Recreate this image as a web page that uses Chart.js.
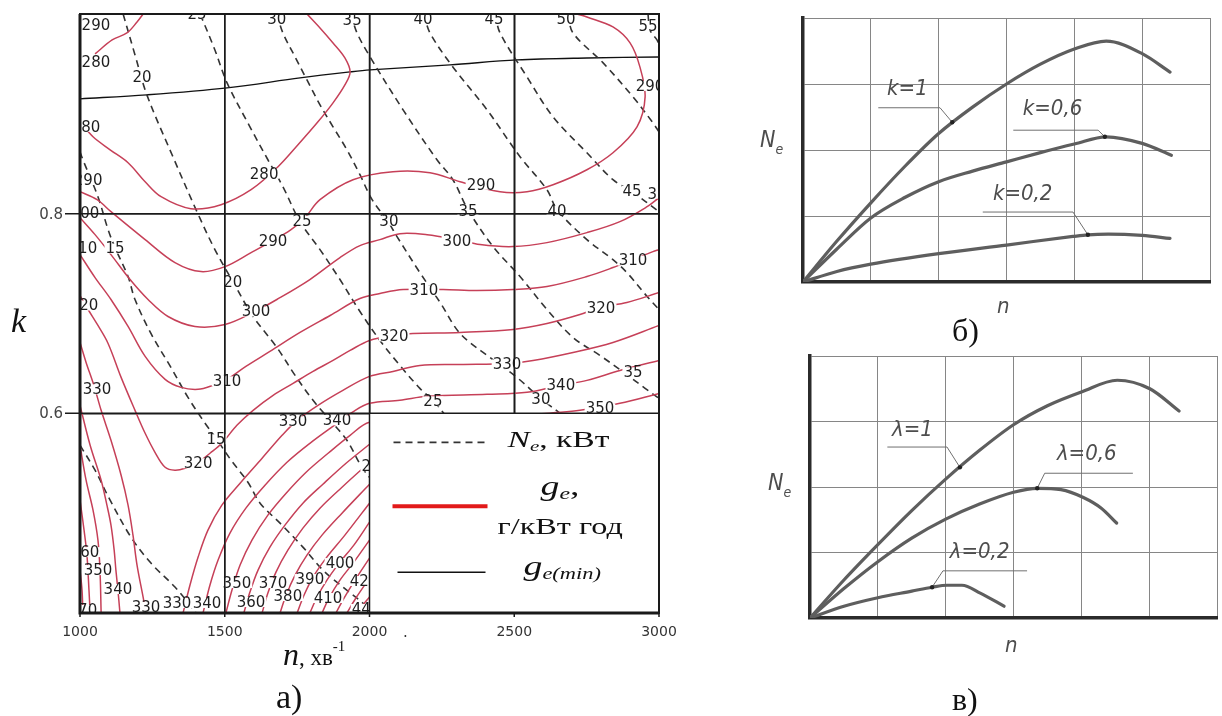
<!DOCTYPE html>
<html lang="uk">
<head>
<meta charset="utf-8">
<title>Характеристики двигуна</title>
<script src="https://cdn.jsdelivr.net/npm/chart.js"></script>
<style>
  html, body { margin: 0; padding: 0; background: #fff; }
  body { position: relative; width: 1222px; height: 716px; overflow: hidden; }
  canvas { position: absolute; display: block; }
</style>
</head>
<body>
<canvas id="mapChart" width="700" height="716" style="left:0;top:0"></canvas>
<canvas id="kChart" width="482" height="360" style="left:740px;top:0"></canvas>
<canvas id="lamChart" width="482" height="366" style="left:740px;top:350px"></canvas>
<script>
// ================= а) load map: speed n (rpm) vs load factor k =================
const speedTicks = [1000, 1500, 2000, 2500, 3000];
const loadTicks = [0.6, 0.8];

// specific fuel consumption isolines g_e, g/(kW·h), points [n, k]
const ge280 = [[1000,0.892],[1045,0.877],[1104,0.864],[1166,0.851],[1225,0.832],[1280,0.817],[1383,0.805],[1487,0.809],[1591,0.824],[1684,0.847],[1753,0.869],[1822,0.892],[1874,0.911],[1915,0.929],[1933,0.942],[1915,0.956],[1874,0.971],[1829,0.986],[1784,1.0]];
const ge280top = [[1052,0.960],[1111,0.974],[1162,0.981],[1197,0.992],[1218,1.0]];
const ge290 = [[1000,0.822],[1059,0.814],[1107,0.802],[1225,0.774],[1328,0.751],[1418,0.742],[1501,0.747],[1591,0.761],[1660,0.772],[1729,0.784],[1777,0.796],[1829,0.814],[1943,0.834],[2081,0.842],[2209,0.841],[2313,0.832],[2451,0.822],[2544,0.822],[2634,0.829],[2751,0.844],[2841,0.861],[2924,0.887],[2952,0.917],[2934,0.947],[2900,0.971],[2841,0.987],[2751,0.997],[2717,1.0]];
const ge300 = [[1000,0.796],[1052,0.779],[1107,0.759],[1173,0.734],[1235,0.714],[1304,0.697],[1397,0.687],[1501,0.689],[1604,0.702],[1680,0.714],[1794,0.734],[1898,0.756],[1967,0.768],[2036,0.774],[2105,0.780],[2199,0.779],[2302,0.774],[2382,0.769],[2496,0.767],[2613,0.771],[2751,0.781],[2865,0.792],[2959,0.807],[3000,0.816]];
const ge310 = [[1000,0.759],[1052,0.736],[1107,0.714],[1166,0.687],[1225,0.657],[1294,0.634],[1349,0.626],[1408,0.624],[1459,0.628],[1508,0.634],[1573,0.647],[1656,0.662],[1760,0.681],[1864,0.698],[1967,0.715],[2036,0.720],[2116,0.724],[2254,0.724],[2371,0.723],[2496,0.724],[2613,0.727],[2751,0.737],[2841,0.746],[2910,0.754],[2979,0.762],[3000,0.764]];
const ge320 = [[1000,0.718],[1028,0.704],[1062,0.688],[1097,0.670],[1142,0.636],[1190,0.603],[1225,0.580],[1259,0.561],[1294,0.546],[1328,0.543],[1363,0.545],[1408,0.551],[1449,0.560],[1490,0.570],[1542,0.588],[1598,0.603],[1667,0.618],[1736,0.630],[1805,0.642],[1874,0.653],[1933,0.663],[2000,0.673],[2081,0.678],[2150,0.680],[2313,0.681],[2496,0.684],[2613,0.690],[2727,0.699],[2796,0.706],[2889,0.711],[3000,0.721]];
const ge330west = [[1000,0.671],[1021,0.651],[1048,0.628],[1073,0.603],[1107,0.573],[1142,0.538],[1166,0.508],[1183,0.478],[1197,0.448],[1218,0.416],[1228,0.4]];
const ge340west = [[1000,0.608],[1035,0.568],[1073,0.533],[1093,0.508],[1107,0.488],[1118,0.463],[1124,0.443],[1131,0.423],[1138,0.4]];
const ge350west = [[1000,0.568],[1021,0.533],[1045,0.503],[1062,0.473],[1069,0.443],[1073,0.4]];
const ge360west = [[1000,0.513],[1014,0.483],[1024,0.458],[1031,0.423],[1035,0.4]];
const ge370west = [[1000,0.443],[1007,0.423],[1010,0.4]];
const ge330 = [[1356,0.4],[1380,0.428],[1408,0.456],[1442,0.483],[1490,0.508],[1553,0.530],[1629,0.555],[1698,0.578],[1750,0.593],[1822,0.608],[1908,0.623],[2000,0.637],[2081,0.642],[2174,0.648],[2313,0.649],[2475,0.650],[2565,0.653],[2703,0.661],[2841,0.671],[3000,0.688]];
const ge340 = [[1425,0.4],[1449,0.428],[1477,0.453],[1518,0.480],[1573,0.505],[1639,0.528],[1715,0.551],[1794,0.570],[1888,0.590],[1940,0.601],[2000,0.610],[2105,0.613],[2199,0.617],[2406,0.619],[2544,0.621],[2658,0.628],[2751,0.633],[2865,0.643],[3000,0.653]];
const ge350 = [[1504,0.4],[1525,0.423],[1553,0.448],[1594,0.473],[1649,0.498],[1712,0.520],[1781,0.541],[1857,0.560],[1933,0.578],[2000,0.591],[2174,0.595],[2451,0.597],[2658,0.601],[2727,0.603],[2865,0.610],[3000,0.620]];
const ge360 = [[1566,0.4],[1587,0.421],[1615,0.443],[1656,0.466],[1708,0.488],[1770,0.510],[1839,0.529],[1919,0.550],[2000,0.569]];
const ge370 = [[1629,0.4],[1649,0.420],[1677,0.441],[1718,0.463],[1770,0.485],[1829,0.505],[1905,0.526],[2000,0.551]];
const ge380 = [[1691,0.4],[1712,0.418],[1743,0.438],[1784,0.458],[1836,0.478],[1905,0.500],[2000,0.529]];
const ge390 = [[1750,0.4],[1774,0.418],[1805,0.436],[1850,0.455],[1915,0.478],[2000,0.510]];
const ge400 = [[1794,0.4],[1819,0.416],[1853,0.433],[1898,0.451],[1946,0.468],[2000,0.491]];
const ge410 = [[1836,0.4],[1860,0.415],[1898,0.433],[1946,0.451],[2000,0.473]];
const ge420 = [[1884,0.4],[1912,0.415],[1950,0.433],[2000,0.455]];
const ge430 = [[1922,0.4],[1953,0.415],[2000,0.435]];
const ge440 = [[1957,0.4],[1977,0.408],[2000,0.416]];

// line of minimum g_e
const geMin = [[1000,0.915],[1231,0.919],[1508,0.926],[1760,0.936],[1933,0.942],[2002,0.944],[2278,0.949],[2509,0.954],[2751,0.956],[3000,0.957]];

// effective power isolines N_e, kW, points [n, k]
const ne10 = [[1000,0.568],[1052,0.543],[1104,0.513],[1176,0.476],[1245,0.450],[1328,0.426],[1380,0.408],[1401,0.4]];
const ne15 = [[1000,0.862],[1010,0.854],[1062,0.817],[1097,0.784],[1121,0.766],[1166,0.737],[1190,0.714],[1245,0.680],[1314,0.646],[1373,0.616],[1432,0.590],[1470,0.575],[1522,0.553],[1580,0.531],[1622,0.510],[1691,0.490],[1770,0.466],[1839,0.443],[1908,0.426],[1977,0.410],[2009,0.4]];
const ne20 = [[1149,1.0],[1190,0.959],[1231,0.919],[1318,0.859],[1404,0.802],[1466,0.764],[1528,0.732],[1598,0.697],[1680,0.666],[1743,0.638],[1805,0.613],[1864,0.593],[1922,0.573],[1974,0.546],[2036,0.523],[2105,0.498],[2209,0.463]];
const ne25 = [[1415,1.0],[1466,0.964],[1508,0.931],[1587,0.887],[1649,0.854],[1701,0.827],[1760,0.792],[1829,0.764],[1898,0.734],[1967,0.702],[2036,0.673],[2105,0.648],[2174,0.625],[2219,0.613],[2278,0.593],[2382,0.563]];
const ne30 = [[1680,1.0],[1701,0.981],[1743,0.957],[1784,0.934],[1829,0.909],[1874,0.887],[1922,0.864],[1967,0.839],[2009,0.814],[2064,0.792],[2095,0.777],[2174,0.741],[2244,0.711],[2313,0.680],[2416,0.656],[2509,0.636],[2599,0.613],[2658,0.6],[2762,0.573]];
const ne35 = [[1936,1.0],[1957,0.981],[2002,0.957],[2116,0.904],[2233,0.854],[2288,0.834],[2340,0.804],[2427,0.767],[2520,0.737],[2613,0.704],[2703,0.676],[2796,0.658],[2883,0.640],[2952,0.625],[3000,0.615]];
const ne40 = [[2188,1.0],[2209,0.981],[2288,0.947],[2406,0.904],[2520,0.857],[2613,0.824],[2648,0.804],[2751,0.774],[2841,0.754],[2889,0.741],[2959,0.717],[3000,0.704]];
const ne45 = [[2434,1.0],[2451,0.981],[2544,0.937],[2634,0.897],[2751,0.861],[2841,0.834],[2907,0.822],[3000,0.802]];
const ne50 = [[2686,1.0],[2703,0.981],[2807,0.951],[2910,0.917],[2979,0.891],[3000,0.882]];
const ne55 = [[2962,1.0],[2969,0.984],[2993,0.974],[3000,0.969]];

// value tags written on the isolines: [n, k, text]
const geTags = [
  [1055,0.989,'290'],[1055,0.952,'280'],[1021,0.887,'280'],[1028,0.834,'290'],[1017,0.801,'300'],
  [1010,0.766,'310'],[1014,0.708,'320'],[1059,0.624,'330'],[1017,0.461,'360'],[1062,0.443,'350'],
  [1131,0.424,'340'],[1010,0.403,'370'],[1228,0.406,'330'],[1335,0.410,'330'],[1439,0.410,'340'],
  [1542,0.430,'350'],[1667,0.430,'370'],[1794,0.434,'390'],[1898,0.450,'400'],[1981,0.432,'420'],
  [1591,0.411,'360'],[1718,0.417,'380'],[1857,0.415,'410'],[1988,0.404,'440'],
  [1636,0.840,'280'],[1667,0.773,'290'],[1608,0.702,'300'],[1508,0.632,'310'],[1408,0.550,'320'],
  [1736,0.592,'330'],[1888,0.593,'340'],[2385,0.829,'290'],[2302,0.773,'300'],[2188,0.723,'310'],
  [2910,0.753,'310'],[2085,0.677,'320'],[2800,0.705,'320'],[2475,0.649,'330'],[2661,0.628,'340'],
  [2796,0.605,'350'],[2969,0.928,'290'],[3010,0.820,'300']
];
const neTags = [
  [1214,0.937,'20'],[1528,0.731,'20'],[2005,0.547,'20'],[1121,0.765,'15'],[1470,0.574,'15'],
  [1767,0.793,'25'],[2219,0.612,'25'],[2067,0.793,'30'],[2592,0.614,'30'],[2340,0.803,'35'],
  [2910,0.641,'35'],[2648,0.803,'40'],[2907,0.823,'45'],[1404,1.0,'25'],[1680,0.995,'30'],
  [1940,0.994,'35'],[2185,0.995,'40'],[2430,0.995,'45'],[2679,0.995,'50'],[2962,0.988,'55']
];

// ================= б) N_e(n) for load factors k;  в) N_e(n) for λ =================
const gridCols = 6, gridRows = 4;
const kOne = [[0,0],[0.5,0.62],[1.0,1.2],[1.5,1.75],[2.0,2.25],[2.5,2.65],[3.0,3.0],[3.5,3.3],[4.0,3.53],[4.47,3.65],[5.0,3.46],[5.41,3.18]];
const kSix = [[0,0],[0.5,0.5],[1.0,0.97],[1.5,1.28],[2.0,1.52],[2.5,1.68],[3.0,1.82],[3.5,1.96],[4.0,2.09],[4.47,2.2],[5.0,2.1],[5.43,1.92]];
const kTwo = [[0,0],[0.5,0.16],[1.0,0.27],[2.0,0.43],[3.0,0.56],[3.98,0.69],[4.2,0.715],[4.5,0.725],[5.0,0.705],[5.41,0.66]];
const lamOne = [[0,0],[0.5,0.58],[1.0,1.12],[1.5,1.64],[2.0,2.12],[2.5,2.56],[3.0,2.95],[3.5,3.24],[4.0,3.45],[4.53,3.63],[5.01,3.5],[5.44,3.16]];
const lamSix = [[0,0],[0.5,0.45],[1.0,0.86],[1.5,1.22],[2.0,1.51],[2.5,1.74],[3.0,1.92],[3.35,1.98],[3.7,1.96],[4.03,1.84],[4.29,1.68],[4.52,1.45]];
const lamTwo = [[0,0],[0.5,0.18],[1.0,0.31],[1.5,0.41],[1.8,0.47],[2.02,0.5],[2.24,0.5],[2.51,0.38],[2.86,0.18]];

const kNames = ['k=1', 'k=0,6', 'k=0,2'];
const kNameAt = [[1.24,2.83],[3.24,2.53],[2.8,1.24]];
const kLeaders = [[[1.11,2.64],[2.02,2.64],[2.2,2.42]], [[3.1,2.3],[4.35,2.3],[4.45,2.2]], [[2.65,1.06],[3.98,1.06],[4.2,0.715]]];
const lamNames = ['λ=1', 'λ=0,6', 'λ=0,2'];
const lamNameAt = [[1.21,2.78],[3.64,2.41],[2.06,0.92]];
const lamLeaders = [[[1.14,2.61],[2.02,2.61],[2.21,2.3]], [[4.76,2.21],[3.46,2.21],[3.35,1.98]], [[3.2,0.72],[1.96,0.72],[1.8,0.47]]];

// ---------------------------------------------------------------------------
Chart.defaults.font.family = '"DejaVu Sans", sans-serif';
const toXY = pts => pts.map(([x, y]) => ({ x, y }));
function curve(pts, color, width, dash, extra) {
  return Object.assign({
    data: toXY(pts), showLine: true, fill: false,
    borderColor: color, borderWidth: width, borderDash: dash || [],
    pointRadius: 0, pointHoverRadius: 0, tension: 0.35
  }, extra || {});
}
// draws a row of text pieces (font / vertical shift each) from a left baseline point
function textRun(ctx, x, y, parts, stretch) {
  ctx.save();
  ctx.translate(x, y);
  ctx.scale(stretch || 1, 1);
  ctx.textAlign = 'left';
  ctx.textBaseline = 'alphabetic';
  let cx = 0;
  for (const p of parts) {
    ctx.font = p.font;
    ctx.fillText(p.t, cx, p.dy || 0);
    cx += ctx.measureText(p.t).width;
  }
  ctx.restore();
}
function hLine(ctx, x0, x1, y) { ctx.beginPath(); ctx.moveTo(x0, y); ctx.lineTo(x1, y); ctx.stroke(); }

const RED = 'rgb(198,64,88)';
const SERIF = '"Liberation Serif", "Times New Roman", serif';

const mapDecor = {
  id: 'mapDecor',
  afterDatasetsDraw(chart) {
    const { ctx, chartArea: a, scales: { x, y } } = chart;
    const X = v => x.getPixelForValue(v), Y = v => y.getPixelForValue(v);
    ctx.save();
    // isoline value tags (clipped by the frame)
    ctx.beginPath(); ctx.rect(a.left, a.top, a.right - a.left, a.bottom - a.top); ctx.clip();
    ctx.font = '15px "DejaVu Sans"';
    ctx.textAlign = 'center'; ctx.textBaseline = 'middle';
    for (const [n, k, t] of [...geTags, ...neTags]) {
      const px = X(n), py = Y(k), w = ctx.measureText(t).width;
      ctx.fillStyle = '#fff'; ctx.fillRect(px - w / 2 - 1, py - 5, w + 2, 10);
      ctx.fillStyle = '#1e1e1e'; ctx.fillText(t, px, py + 1);
    }
    ctx.restore();

    ctx.save();
    // legend cell
    const bx = X(2000), by = Y(0.6);
    ctx.fillStyle = '#fff';
    ctx.fillRect(bx, by, a.right - bx, a.bottom - by);
    // grid lines over the isolines
    ctx.strokeStyle = '#1a1a1a'; ctx.lineWidth = 1.5; ctx.setLineDash([]);
    ctx.beginPath();
    for (const v of [1500, 2000]) { ctx.moveTo(X(v), a.top); ctx.lineTo(X(v), a.bottom); }
    ctx.moveTo(X(2500), a.top); ctx.lineTo(X(2500), by);
    for (const v of loadTicks) { ctx.moveTo(a.left, Y(v)); ctx.lineTo(a.right, Y(v)); }
    ctx.stroke();
    // frame
    ctx.lineWidth = 2;
    ctx.strokeRect(a.left, a.top, a.right - a.left, a.bottom - a.top);
    ctx.lineWidth = 3;
    ctx.beginPath(); ctx.moveTo(a.left, a.top); ctx.lineTo(a.left, a.bottom); ctx.lineTo(a.right, a.bottom); ctx.stroke();
    // tick marks and k labels
    ctx.lineWidth = 1.5; ctx.beginPath();
    for (const v of loadTicks) { ctx.moveTo(a.left - 15, Y(v)); ctx.lineTo(a.left, Y(v)); }
    for (const v of speedTicks) { ctx.moveTo(X(v), a.bottom); ctx.lineTo(X(v), a.bottom + 4); }
    ctx.stroke();
    ctx.fillStyle = '#444';
    ctx.font = '15px "DejaVu Sans"';
    ctx.textAlign = 'right'; ctx.textBaseline = 'middle';
    for (const v of loadTicks) ctx.fillText(v.toFixed(1), a.left - 17, Y(v) + 1);

    // legend entries
    ctx.strokeStyle = '#333'; ctx.lineWidth = 1.6; ctx.setLineDash([7, 5]);
    hLine(ctx, bx + 24, bx + 116, by + 29);
    ctx.setLineDash([]);
    ctx.strokeStyle = 'rgb(226,26,26)'; ctx.lineWidth = 4;
    hLine(ctx, bx + 23, bx + 118, by + 93);
    ctx.strokeStyle = '#111'; ctx.lineWidth = 1.5;
    hLine(ctx, bx + 28, bx + 116, by + 159);
    ctx.fillStyle = '#111';
    textRun(ctx, bx + 138, by + 34, [
      { t: 'N', font: 'italic 24px ' + SERIF },
      { t: 'e', font: 'italic 15px ' + SERIF, dy: 4 },
      { t: ', кВт', font: '24px ' + SERIF }], 1.4);
    textRun(ctx, bx + 171, by + 82, [
      { t: 'g', font: 'italic 27px ' + SERIF },
      { t: 'e', font: 'italic 17px ' + SERIF, dy: 4 },
      { t: ',', font: '27px ' + SERIF }], 1.4);
    textRun(ctx, bx + 128, by + 121, [{ t: 'г/кВт год', font: '23px ' + SERIF }], 1.4);
    textRun(ctx, bx + 154, by + 162, [
      { t: 'g', font: 'italic 27px ' + SERIF },
      { t: 'e(min)', font: 'italic 16px ' + SERIF, dy: 4 }], 1.4);

    // axis names and caption
    ctx.fillStyle = '#111';
    textRun(ctx, 11, 332, [{ t: 'k', font: 'italic 34px ' + SERIF }]);
    textRun(ctx, 283, 665, [
      { t: 'n', font: 'italic 32px ' + SERIF },
      { t: ', хв', font: '23px ' + SERIF },
      { t: '-1', font: '15px ' + SERIF, dy: -14 }]);
    textRun(ctx, 276, 708, [{ t: 'а)', font: '34px ' + SERIF }]);
    ctx.fillStyle = '#333';
    textRun(ctx, 403, 637, [{ t: '.', font: '15px "DejaVu Sans"' }]);
    ctx.restore();
  }
};

new Chart(document.getElementById('mapChart'), {
  type: 'scatter',
  data: {
    datasets: [
      ...[ge280, ge280top, ge290, ge300, ge310, ge320, ge330west, ge340west, ge350west, ge360west, ge370west,
          ge330, ge340, ge350, ge360, ge370, ge380, ge390, ge400, ge410, ge420, ge430, ge440]
        .map(p => curve(p, RED, 1.5)),
      ...[ne10, ne15, ne20, ne25, ne30, ne35, ne40, ne45, ne50, ne55].map(p => curve(p, '#333', 1.6, [7, 5])),
      curve(geMin, '#111', 1.4)
    ]
  },
  options: {
    responsive: false, animation: false, events: [],
    layout: { padding: { left: 0, right: 41, top: 14, bottom: 0 } },
    plugins: { legend: { display: false }, tooltip: { enabled: false } },
    scales: {
      x: {
        type: 'linear', min: 1000, max: 3000,
        afterBuildTicks: s => { s.ticks = speedTicks.map(v => ({ value: v })); },
        afterFit: s => { s.height = 103; },
        grid: { color: '#1a1a1a', lineWidth: 1.5, drawTicks: false },
        border: { display: false },
        ticks: { padding: 11, color: '#333', font: { size: 14 }, maxRotation: 0, autoSkip: false,
                 callback: v => String(v) }
      },
      y: {
        type: 'linear', min: 0.4, max: 1.0,
        afterBuildTicks: s => { s.ticks = [0.4, ...loadTicks, 1.0].map(v => ({ value: v })); },
        afterFit: s => { s.width = 80; },
        grid: { color: '#1a1a1a', lineWidth: 1.5, drawTicks: false },
        border: { display: false },
        ticks: { display: false }
      }
    }
  },
  plugins: [mapDecor]
});

// ---------- б) and в) ----------
const curveNotes = {
  id: 'curveNotes',
  afterDatasetsDraw(chart, args, o) {
    const { ctx, scales: { x, y } } = chart;
    const P = ([u, v]) => [x.getPixelForValue(u), y.getPixelForValue(v)];
    ctx.save();
    o.names.forEach((name, i) => {
      const leader = o.leaders[i];
      ctx.strokeStyle = '#707070'; ctx.lineWidth = 1;
      ctx.beginPath();
      leader.forEach((p, j) => { const [px, py] = P(p); j ? ctx.lineTo(px, py) : ctx.moveTo(px, py); });
      ctx.stroke();
      const [dx, dy] = P(leader[leader.length - 1]);
      ctx.fillStyle = '#222';
      ctx.beginPath(); ctx.arc(dx, dy, 2.2, 0, Math.PI * 2); ctx.fill();
      const [tx, ty] = P(o.nameAt[i]);
      ctx.fillStyle = '#4d4d4d';
      textRun(ctx, tx, ty, [{ t: name, font: 'italic 22px "DejaVu Sans Condensed", "DejaVu Sans"' }]);
    });
    ctx.fillStyle = '#4d4d4d';
    textRun(ctx, o.yName[0], o.yName[1], [
      { t: 'N', font: 'italic 23px "DejaVu Sans Condensed", "DejaVu Sans"' },
      { t: 'e', font: 'italic 14px "DejaVu Sans Condensed", "DejaVu Sans"', dy: 7 }]);
    textRun(ctx, o.xName[0], o.xName[1], [{ t: 'n', font: 'italic 22px "DejaVu Sans Condensed", "DejaVu Sans"' }]);
    ctx.fillStyle = '#111';
    textRun(ctx, o.caption[0], o.caption[1], [{ t: o.caption[2], font: '32px ' + SERIF }]);
    ctx.restore();
  }
};

function powerPanel(id, series, box, notes) {
  const axis = (max, fit) => ({
    type: 'linear', min: 0, max,
    afterFit: fit,
    ticks: { display: false, stepSize: 1 },
    grid: { color: '#868686', lineWidth: 1, drawTicks: false },
    border: { display: true, color: '#2b2b2b', width: 3.5 }
  });
  new Chart(document.getElementById(id), {
    type: 'scatter',
    data: {
      datasets: series.map(p => curve(p, '#5e5e5e', 3.2, [], { cubicInterpolationMode: 'monotone', borderCapStyle: 'round' }))
    },
    options: {
      responsive: false, animation: false, events: [],
      layout: { padding: { left: 0, right: box.right, top: box.top, bottom: 0 } },
      plugins: { legend: { display: false }, tooltip: { enabled: false }, curveNotes: notes },
      scales: {
        x: axis(gridCols, s => { s.height = box.xh; }),
        y: axis(gridRows, s => { s.width = box.yw; })
      }
    },
    plugins: [curveNotes]
  });
}

powerPanel('kChart', [kOne, kSix, kTwo], { right: 12, top: 18, xh: 78, yw: 63 },
  { names: kNames, nameAt: kNameAt, leaders: kLeaders, yName: [20, 147], xName: [257, 313], caption: [212, 341, 'б)'] });
powerPanel('lamChart', [lamOne, lamSix, lamTwo], { right: 5, top: 6, xh: 98, yw: 70 },
  { names: lamNames, nameAt: lamNameAt, leaders: lamLeaders, yName: [28, 140], xName: [265, 302], caption: [212, 360, 'в)'] });
</script>
</body>
</html>
